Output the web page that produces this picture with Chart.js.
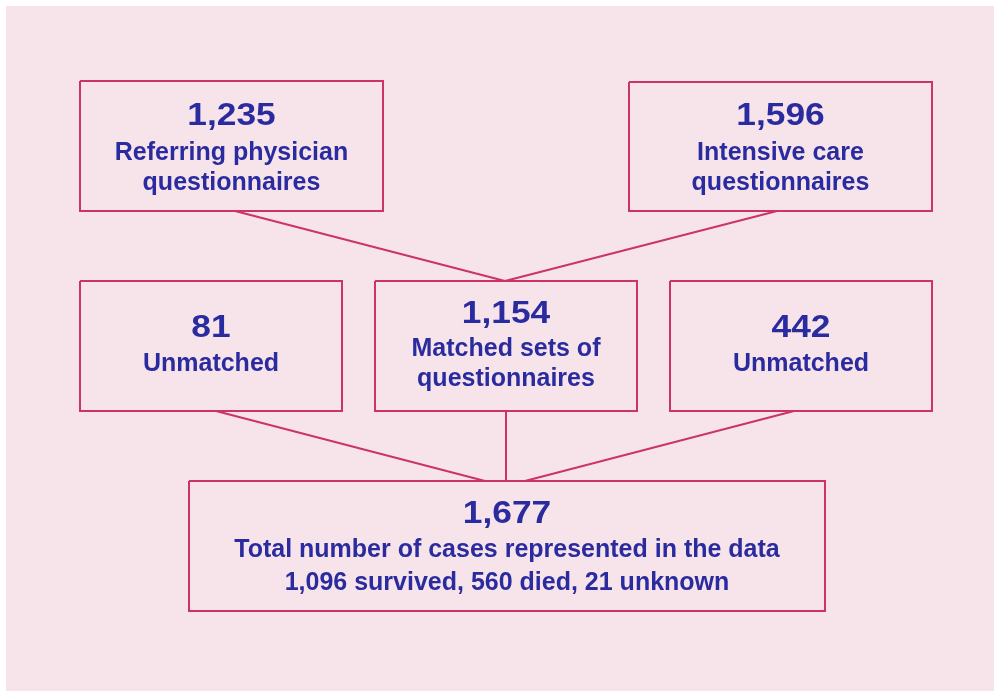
<!DOCTYPE html>
<html>
<head>
<meta charset="utf-8">
<script src="https://cdn.jsdelivr.net/npm/chart.js@4"></script>
<style>
  html, body { margin: 0; padding: 0; background: #ffffff; }
  canvas { display: block; }
</style>
</head>
<body>
<canvas id="flow" width="994" height="691"></canvas>
<script>
var counts = [1235, 1596, 81, 1154, 442, 1677];
var captions = [
    ["Referring physician", "questionnaires"],
    ["Intensive care", "questionnaires"],
    ["Unmatched"],
    ["Matched sets of", "questionnaires"],
    ["Unmatched"],
    ["Total number of cases represented in the data"]
];
var outcomeValues = [1096, 560, 21];
var outcomeLabels = ["survived", "died", "unknown"];

// layout, in canvas units (x right, y down)
var boxes = [
    { x0: 80,  y0: 81,  x1: 383, y1: 211, rows: [114, 151, 181] },
    { x0: 629, y0: 82,  x1: 932, y1: 211, rows: [114, 151, 181] },
    { x0: 80,  y0: 281, x1: 342, y1: 411, rows: [326, 362.5] },
    { x0: 375, y0: 281, x1: 637, y1: 411, rows: [311.7, 347, 377] },
    { x0: 670, y0: 281, x1: 932, y1: 411, rows: [326, 362.5] },
    { x0: 189, y0: 481, x1: 825, y1: 611, rows: [511.5, 548, 581] }
];
var links = [
    [[235, 211], [505, 281]],
    [[777, 211], [505, 281]],
    [[216, 411], [485, 481]],
    [[506, 411], [506, 481]],
    [[794, 411], [525, 481]]
];

var pink = '#f7e4ea';
var crimson = '#cc3366';
var navy = '#2b2ba0';
var numFont = 31, labelFont = 25, numStretch = 1.14;

function fmt(n) { return n.toLocaleString('en-US'); }

var lines = captions.map(function (c) { return c.slice(); });
lines[5].push(outcomeValues.map(function (v, i) {
    return fmt(v) + ' ' + outcomeLabels[i];
}).join(', '));

var datasets = [];
boxes.forEach(function (b) {
    datasets.push({
        data: [{x: b.x0, y: b.y0}, {x: b.x1, y: b.y0}, {x: b.x1, y: b.y1},
               {x: b.x0, y: b.y1}, {x: b.x0, y: b.y0}]
    });
});
links.forEach(function (l) {
    datasets.push({ data: [{x: l[0][0], y: l[0][1]}, {x: l[1][0], y: l[1][1]}] });
});
datasets.forEach(function (d) {
    d.showLine = true;
    d.borderColor = crimson;
    d.borderWidth = 2;
    d.pointRadius = 0;
    d.borderJoinStyle = 'miter';
    d.tension = 0;
});

var backdrop = {
    id: 'backdrop',
    beforeDraw: function (chart) {
        var ctx = chart.ctx, sx = chart.scales.x, sy = chart.scales.y;
        ctx.save();
        ctx.fillStyle = '#ffffff';
        ctx.fillRect(0, 0, chart.width, chart.height);
        var px = sx.getPixelForValue(6), py = sy.getPixelForValue(6);
        ctx.fillStyle = pink;
        ctx.fillRect(px, py, sx.getPixelForValue(994) - px, sy.getPixelForValue(691) - py);
        ctx.restore();
    }
};

var boxText = {
    id: 'boxText',
    afterDatasetsDraw: function (chart) {
        var ctx = chart.ctx, sx = chart.scales.x, sy = chart.scales.y;
        ctx.save();
        ctx.fillStyle = navy;
        ctx.textAlign = 'center';
        ctx.textBaseline = 'alphabetic';
        boxes.forEach(function (b, i) {
            var cx = sx.getPixelForValue((b.x0 + b.x1) / 2);
            var texts = [fmt(counts[i])].concat(lines[i]);
            texts.forEach(function (t, k) {
                var size = k == 0 ? numFont : labelFont;
                var y = sy.getPixelForValue(b.rows[k]) + 0.358 * size;
                ctx.font = 'bold ' + size + 'px "Liberation Sans", Arial, sans-serif';
                if (k == 0) {
                    ctx.save();
                    ctx.translate(cx, y);
                    ctx.scale(numStretch, 1);
                    ctx.fillText(t, 0, 0);
                    ctx.restore();
                } else {
                    ctx.fillText(t, cx, y);
                }
            });
        });
        ctx.restore();
    }
};

new Chart(document.getElementById('flow'), {
    type: 'scatter',
    data: { datasets: datasets },
    options: {
        responsive: false,
        animation: false,
        devicePixelRatio: 1,
        layout: { padding: 0 },
        scales: {
            x: { type: 'linear', min: 0, max: 994, display: false },
            y: { type: 'linear', min: 0, max: 691, reverse: true, display: false }
        },
        plugins: { legend: { display: false }, tooltip: { enabled: false } }
    },
    plugins: [backdrop, boxText]
});
</script>
</body>
</html>
